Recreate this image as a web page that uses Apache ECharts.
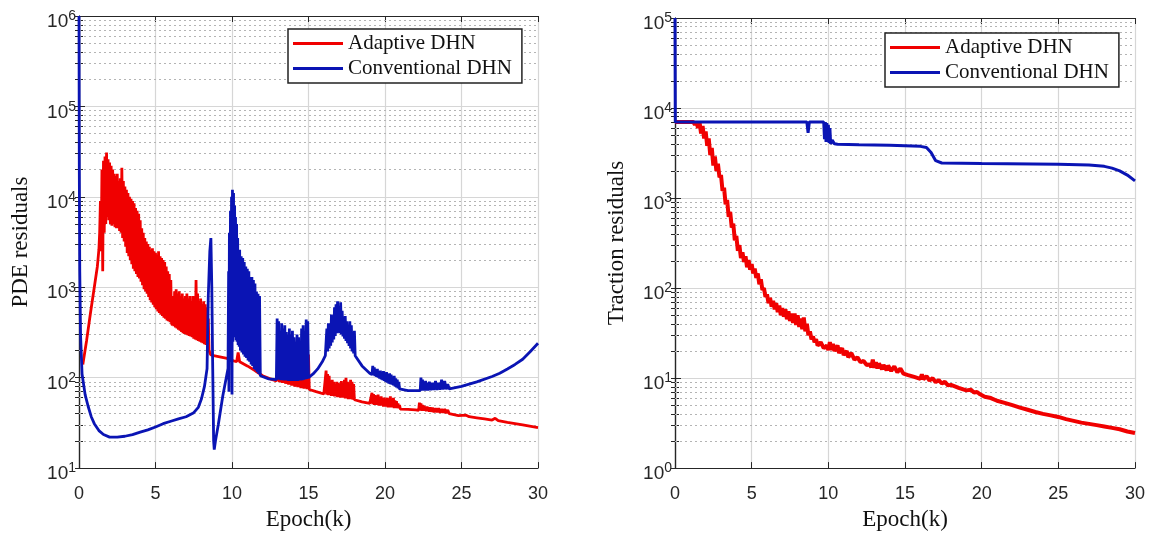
<!DOCTYPE html>
<html>
<head>
<meta charset="utf-8">
<script src="https://cdn.jsdelivr.net/npm/echarts@6/dist/echarts.min.js"></script>
<style>html,body{margin:0;padding:0;background:#fff}#c{width:1153px;height:536px}</style>
</head>
<body>
<div id="c"></div>
<script>
// ---------- data ----------
const seriesNames = ['Adaptive DHN', 'Conventional DHN'];
const xTicks = [0, 5, 10, 15, 20, 25, 30];
const leftDecades = [1, 2, 3, 4, 5, 6];
const rightDecades = [0, 1, 2, 3, 4, 5];
const minorMultipliers = [2, 3, 4, 5, 6, 7, 8, 9];

// Left panel: PDE residuals
const leftAdaptive = [
[0.25,140],[0.5,260],[0.75,520],[1.0,1000],[1.2,1700],[1.3,2600],[1.35,4000],[1.4,9000],[1.45,2500],[1.5,2e4],[1.55,1500],[1.6,2.5e4],[1.65,4000],
[1.7,2.8e4],[1.75,5000],[1.8,3.1e4],[1.85,6000],[1.9,2.6e4],[1.95,5500],[2.0,2.4e4],[2.05,5000],[2.1,2.2e4],[2.15,4800],[2.2,2e4],[2.25,5000],[2.3,1.8e4],[2.35,4600],[2.4,1.7e4],[2.45,4500],[2.5,1.8e4],[2.55,4500],[2.6,1.5e4],[2.65,4200],[2.7,1.6e4],[2.75,4000],[2.8,2.1e4],[2.85,3500],[2.9,1.5e4],[2.95,3200],[3.0,1.3e4],[3.05,2800],[3.1,1.2e4],[3.15,2400],[3.2,1.1e4],[3.25,2200],[3.3,1e4],[3.35,2000],[3.4,9500],[3.45,1800],[3.5,9000],[3.55,1600],[3.6,8500],[3.65,1500],[3.7,7500],[3.75,1400],[3.8,7000],[3.85,1300],[3.9,6500],[3.95,1250],[4.0,5500],[4.05,1150],[4.1,4500],[4.15,1050],[4.2,4000],[4.25,950],[4.3,3500],[4.35,900],[4.4,3200],[4.45,850],[4.5,3000],[4.55,780],[4.6,2800],[4.65,720],[4.7,2600],[4.75,680],[4.8,2700],[4.85,640],[4.9,2500],[4.95,600],[5.0,2400],[5.05,570],[5.1,2300],[5.15,540],[5.2,2500],[5.25,520],[5.3,2200],[5.35,500],[5.4,2100],[5.45,480],[5.5,2000],[5.55,460],[5.6,1900],[5.65,450],[5.7,1700],[5.75,430],[5.8,1500],[5.85,420],[5.9,1400],[5.95,410],[6.0,1200],[6.05,400],
[6.1,380],[6.15,800],[6.2,370],[6.25,900],[6.3,360],[6.35,950],[6.4,350],[6.45,850],[6.5,340],[6.55,900],[6.6,330],[6.65,800],[6.7,320],[6.75,850],[6.8,310],[6.85,750],[6.9,305],[6.95,800],[7.0,300],[7.05,850],[7.1,295],[7.15,750],[7.2,290],[7.25,800],[7.3,285],[7.35,700],[7.4,280],[7.45,800],[7.5,270],[7.55,750],[7.6,265],[7.65,1200],[7.7,260],[7.75,850],[7.8,255],[7.85,700],[7.9,250],[7.95,750],[8.0,245],[8.05,650],[8.1,240],[8.15,700],[8.2,235],[8.25,650],[8.3,230],[8.35,600],[8.4,225],[8.45,450],[8.5,200],[8.6,180],[8.8,175],[9.2,170],[9.6,165],[10.0,155],[10.3,150],[10.4,190],[10.5,150],[11.0,135],[11.5,120],[12.0,105],[12.5,97],[12.9,92],
[13.0,105],[13.1,90],[13.2,100],[13.3,88],[13.4,105],[13.5,86],[13.6,100],[13.7,84],[13.8,100],[13.9,82],[14.0,98],[14.1,80],[14.2,95],[14.3,79],[14.4,97],[14.5,77],[14.6,95],[14.7,76],[14.8,100],[14.9,75],[15.0,180],[15.05,74],[15.5,70],[16.0,66],[16.1,65],
[16.15,120],[16.2,65],[16.25,110],[16.3,64],[16.35,105],[16.4,64],[16.45,90],[16.5,63],[16.55,95],[16.6,63],[16.65,90],[16.7,62],[16.75,85],[16.8,62],[16.85,90],[16.9,61],[16.95,88],[17.0,61],[17.05,85],[17.1,60],[17.15,92],[17.2,60],[17.25,88],[17.3,60],[17.35,95],[17.4,59],[17.45,100],[17.5,59],[17.55,90],[17.6,58],[17.65,85],[17.7,58],[17.75,95],[17.8,58],[17.85,90],[17.9,57],[17.95,85],[18.0,57],[18.05,57],[18.5,54],[19.0,52],[19.1,51],
[19.15,68],[19.2,51],[19.25,66],[19.3,50],[19.35,64],[19.4,50],[19.45,62],[19.5,50],[19.55,65],[19.6,49],[19.65,60],[19.7,49],[19.75,62],[19.8,49],[19.85,58],[19.9,48],[19.95,60],[20.0,48],[20.05,57],[20.1,48],[20.15,60],[20.2,47],[20.25,58],[20.3,47],[20.35,62],[20.4,47],[20.45,58],[20.5,47],[20.55,60],[20.6,46],[20.65,56],[20.7,46],[20.75,55],[20.8,46],[20.85,52],[20.9,46],[20.95,50],[21.0,45],[21.5,44.5],[22.0,44],[22.2,43.5],
[22.25,53],[22.3,43.5],[22.35,52],[22.4,43],[22.45,50],[22.5,43],[22.55,49],[22.6,43],[22.65,48],[22.7,42.5],[22.75,48],[22.8,42.5],[22.85,47],[22.9,42],[22.95,47],[23.0,42],[23.1,46.5],[23.2,41.5],[23.3,46],[23.4,41.5],[23.5,46],[23.6,41],[23.7,45],[23.8,41],[23.9,45],[24.0,40.5],[24.1,44],[24.2,40],[24.8,38],[25.3,38.5],[25.5,37],[26,36],[26.5,35],[27,34],[27.2,35.5],[27.4,33.5],[28,32],[29,30],[30,28]
];
const leftConventional = [
[0,1e6],[0.02,2e4],[0.05,1500],[0.1,300],[0.2,110],[0.4,65],[0.6,48],[0.8,37],[1.0,31],[1.3,26],[1.6,23.5],[2.0,22],[2.5,22],[3.0,22.5],[3.5,23.5],[4.0,25],[4.5,26.5],[5.0,28.5],[5.5,31],[6.0,33],[6.5,35],[7.0,37],[7.5,41],[7.8,47],[8.0,58],[8.2,80],[8.37,126],[8.45,800],[8.55,2500],[8.62,3500],[8.68,1000],[8.74,126],[8.8,20],[8.84,16],[8.92,20],[9.1,30],[9.4,63],[9.74,126],
[9.78,1500],[9.8,70],[9.83,4000],[9.86,150],[9.9,7000],[9.93,200],[9.97,1e4],[10.0,65],[10.03,1.2e4],[10.06,250],[10.1,1.1e4],[10.13,300],[10.17,8000],[10.2,280],[10.23,6000],[10.27,260],[10.3,5000],[10.33,250],[10.37,3500],[10.4,230],[10.43,2500],[10.47,220],[10.5,2600],[10.55,200],[10.6,2200],[10.65,190],[10.7,2100],[10.75,180],[10.8,1900],[10.85,170],[10.9,1700],[10.95,165],[11.0,1600],[11.05,155],[11.1,1500],[11.15,150],[11.2,1300],[11.25,140],[11.3,1300],[11.35,135],[11.4,1200],[11.45,125],[11.5,1100],[11.55,120],[11.6,900],[11.65,115],[11.7,850],[11.75,110],[11.8,800],[11.85,105],[11.9,100],[12.4,97],[12.9,95],
[12.95,450],[13.0,95],[13.05,420],[13.1,95],[13.15,300],[13.2,94],[13.25,400],[13.3,94],[13.35,350],[13.4,93],[13.45,380],[13.5,93],[13.55,320],[13.6,93],[13.65,300],[13.7,92],[13.75,350],[13.8,92],[13.85,300],[13.9,92],[13.95,330],[14.0,92],[14.05,280],[14.1,92],[14.15,250],[14.2,92],[14.25,300],[14.3,92],[14.35,280],[14.4,93],[14.45,240],[14.5,93],[14.55,350],[14.6,94],[14.65,380],[14.7,95],[14.75,250],[14.8,96],[14.85,440],[14.9,97],[14.95,420],[15.0,100],[15.3,110],[15.6,125],[15.9,150],[16.1,175],
[16.2,350],[16.25,195],[16.3,400],[16.35,210],[16.4,350],[16.45,225],[16.5,500],[16.55,245],[16.6,450],[16.65,265],[16.7,600],[16.75,290],[16.8,650],[16.85,310],[16.9,700],[16.95,315],[17.0,620],[17.05,310],[17.1,680],[17.15,300],[17.2,550],[17.25,285],[17.3,450],[17.35,270],[17.4,480],[17.45,255],[17.5,420],[17.55,240],[17.6,360],[17.65,225],[17.7,420],[17.75,210],[17.8,380],[17.85,195],[17.9,300],[17.95,185],[18.0,330],[18.05,175],[18.1,170],[18.5,135],[19.0,112],[19.15,108],
[19.2,135],[19.25,106],[19.3,130],[19.35,104],[19.4,120],[19.45,102],[19.5,125],[19.55,100],[19.6,115],[19.65,98],[19.7,120],[19.75,96],[19.8,112],[19.85,94],[19.9,118],[19.95,92],[20.0,110],[20.05,90],[20.1,115],[20.15,88],[20.2,105],[20.25,86],[20.3,112],[20.35,85],[20.4,108],[20.45,84],[20.5,100],[20.55,82],[20.6,105],[20.65,80],[20.7,98],[20.75,78],[20.8,95],[20.85,76],[20.9,90],[20.95,75],[21.0,74],[21.5,72],[22.0,72],[22.3,72],
[22.35,100],[22.4,72],[22.45,95],[22.5,72],[22.55,90],[22.6,72],[22.65,92],[22.7,72],[22.75,88],[22.8,72],[22.9,90],[23.0,72.5],[23.1,88],[23.2,73],[23.3,92],[23.4,73],[23.5,88],[23.6,73.5],[23.7,95],[23.8,74],[23.9,92],[24.0,74.5],[24.1,85],[24.2,75],[25,80],[26,90],[27,103],[27.5,112],[28,125],[28.5,140],[29,160],[29.5,195],[30,240]
];

// Right panel: Traction residuals
const rightAdaptive = [
[0,7000],[1.2,7000],[1.3,6500],[1.4,7000],[1.5,6000],[1.6,7000],[1.7,5200],[1.8,6300],[1.9,4600],[2.0,5500],[2.1,3800],[2.2,4600],[2.3,3000],[2.4,3600],[2.5,2300],[2.6,2900],[2.7,2000],[2.8,2400],[2.9,1700],[3.0,1800],[3.1,1200],[3.2,1300],[3.3,850],[3.4,950],[3.5,620],[3.6,700],[3.7,470],[3.8,520],[3.9,340],[4.0,380],[4.1,260],[4.2,300],[4.3,215],[4.4,250],[4.5,195],[4.6,225],[4.7,170],[4.8,205],[4.9,160],[5.0,185],[5.1,145],[5.2,165],[5.3,130],[5.4,145],[5.5,110],[5.6,125],[5.7,95],[5.8,100],[5.9,80],[6.0,85],[6.1,68],[6.2,78],[6.3,62],[6.4,72],[6.5,58],[6.6,68],[6.7,54],[6.8,64],[6.9,50],[7.0,60],[7.1,48],[7.2,58],[7.3,45],[7.4,55],[7.5,43],[7.6,52],[7.7,41],[7.8,52],[7.9,39],[8.0,50],[8.1,37],[8.2,46],[8.3,35],[8.4,47],[8.5,33],[8.6,40],[8.7,30],[8.8,33],[8.9,27],[9.0,29],[9.1,25],[9.2,27],[9.3,23],[9.5,25],[9.7,21.5],[9.9,23],[10.0,20.5],[10.1,25],[10.2,20.5],[10.3,24],[10.4,20],[10.6,23],[10.7,19],[10.9,21.5],[11.0,18],[11.2,20],[11.3,17],[11.5,19],[11.7,16],[11.9,17],[12.1,15],[12.3,15.5],[12.5,14],[12.7,14.2],[12.8,13.2],[12.9,16],[13.0,13],[13.1,15],[13.2,12.8],[13.3,14.5],[13.5,12.5],[13.6,14],[13.8,12.2],[13.9,13.8],[14.1,12],[14.3,13.5],[14.5,11.6],[14.7,12.8],[14.9,11.2],[15.2,10.8],[15.6,10.3],[16.0,9.8],[16.1,11],[16.2,9.7],[16.4,10.5],[16.6,9.4],[16.8,10],[17.0,9.0],[17.2,9.5],[17.4,8.7],[17.6,9.1],[17.8,8.3],[18.0,8.4],[18.5,7.8],[19.0,7.3],[19.3,7.4],[19.5,6.9],[19.7,7.0],[19.9,6.6],[20.2,6.2],[20.6,6.0],[21.0,5.6],[21.5,5.3],[22.0,5.0],[22.5,4.7],[23.0,4.45],[23.5,4.2],[24.0,4.0],[24.5,3.85],[25.0,3.7],[25.5,3.5],[26.0,3.35],[26.5,3.2],[27.0,3.1],[27.5,3.0],[28.0,2.9],[28.5,2.8],[29.0,2.7],[29.5,2.55],[30.0,2.45]
];
const rightConventional = [
[0,1e5],[0.02,7000],[8.6,7000],[8.68,5300],[8.76,7000],[9.7,7000],[9.75,4500],[9.8,7000],[9.85,4200],[9.9,6800],[9.95,4300],[10.0,6500],[10.05,4100],[10.1,6000],[10.15,4000],[10.25,4400],[10.4,4000],[10.6,3950],[12,3900],[14,3850],[16,3750],[16.4,3650],[16.7,3200],[17.0,2600],[17.4,2450],[20,2420],[25,2380],[27,2330],[28,2250],[28.5,2150],[29,2000],[29.5,1800],[30,1550]
];

// ---------- styling ----------
const RED = '#f00000';
const BLUE = '#0a14b4';
const AX = '#262626';
const SANS = 'Liberation Sans';
const SERIF = 'Liberation Serif';

function minorValues(decades) {
  const out = [];
  for (let i = 0; i < decades.length - 1; i++) {
    for (const m of minorMultipliers) out.push(m * Math.pow(10, decades[i]));
  }
  return out;
}
function allTickValues(decades) {
  return minorValues(decades).concat(decades.map(d => Math.pow(10, d)));
}
function minorMarkLine(decades) {
  return {
    silent: true, symbol: 'none', animation: false, z: 1,
    label: { show: false },
    lineStyle: { type: [2, 3], color: '#b4b4b4', width: 1 },
    data: minorValues(decades).map(v => ({ yAxis: v }))
  };
}
const supLabel = {
  formatter: v => '10{s|' + Math.round(Math.log10(v)) + '}',
  fontFamily: SANS, fontSize: 19, color: AX, margin: 3,
  padding: [12, 0, 0, 0],
  rich: { s: { fontFamily: SANS, fontSize: 14, color: AX, padding: [0, 0, 11, 0] } }
};

function xAxes(gi) {
  return [
    {
      gridIndex: gi, type: 'value', min: xTicks[0], max: xTicks[xTicks.length - 1], interval: 5,
      position: 'bottom',
      axisLine: { show: true, lineStyle: { color: AX, width: 1.2 } },
      axisTick: { show: true, inside: true, length: 6, lineStyle: { color: AX } },
      axisLabel: { fontFamily: SANS, fontSize: 18, color: AX, margin: 17 },
      splitLine: { show: true, lineStyle: { color: '#d6d6d6', width: 1.2 } },
      name: 'Epoch(k)', nameLocation: 'middle', nameGap: 37,
      nameTextStyle: { fontFamily: SERIF, fontSize: 23, color: '#111' }
    },
    {
      gridIndex: gi, type: 'value', min: xTicks[0], max: xTicks[xTicks.length - 1], interval: 5,
      position: 'top',
      axisLine: { show: true, lineStyle: { color: AX, width: 1.2 } },
      axisTick: { show: true, inside: true, length: 6, lineStyle: { color: AX } },
      axisLabel: { show: false }, splitLine: { show: false }
    }
  ];
}
function yAxes(gi, decades, name, gap) {
  const mn = Math.pow(10, decades[0]), mx = Math.pow(10, decades[decades.length - 1]);
  return [
    {
      gridIndex: gi, type: 'log', logBase: 10, min: mn, max: mx, position: 'left',
      axisLine: { show: true, lineStyle: { color: AX, width: 1.2 } },
      axisTick: { show: true, inside: true, length: 6, lineStyle: { color: AX } },
      axisLabel: supLabel,
      splitLine: { show: true, lineStyle: { color: '#d6d6d6', width: 1.2 } },
      name: name, nameLocation: 'middle', nameGap: gap,
      nameTextStyle: { fontFamily: SERIF, fontSize: 23, color: '#111' }
    },
    {
      gridIndex: gi, type: 'log', logBase: 10, min: mn, max: mx, position: 'right',
      axisLine: { show: true, lineStyle: { color: AX, width: 1.2 } },
      axisTick: { show: true, inside: true, length: 4, lineStyle: { color: AX }, customValues: allTickValues(decades) },
      axisLabel: { show: false }, splitLine: { show: false }
    },
    {
      gridIndex: gi, type: 'log', logBase: 10, min: mn, max: mx, position: 'left',
      axisLine: { show: false },
      axisTick: { show: true, inside: true, length: 4, lineStyle: { color: AX }, customValues: minorValues(decades) },
      axisLabel: { show: false }, splitLine: { show: false }
    }
  ];
}

function legendAt(left, top) {
  return {
    left: left, top: top, orient: 'vertical', z: 20,
    data: seriesNames,
    icon: 'rect', itemWidth: 50, itemHeight: 3, itemGap: 4,
    padding: [4, 10, 4, 5],
    borderColor: '#222', borderWidth: 1.5, backgroundColor: '#fff',
    textStyle: { fontFamily: SERIF, fontSize: 21, color: '#111' },
    selectedMode: false
  };
}

const option = {
  animation: false,
  backgroundColor: '#fff',
  grid: [
    { left: 79, top: 16, width: 459, height: 457 },
    { left: 675, top: 18, width: 460, height: 460 }
  ],
  legend: [legendAt(288, 29), legendAt(885, 33)],
  xAxis: xAxes(0).concat(xAxes(1)),
  yAxis: yAxes(0, leftDecades, 'PDE residuals', 47).concat(yAxes(1, rightDecades, 'Traction residuals', 47)),
  series: [
    { name: seriesNames[0], type: 'line', xAxisIndex: 0, yAxisIndex: 0, data: leftAdaptive,
      symbol: 'none', lineStyle: { color: RED, width: 2.8 }, itemStyle: { color: RED },
      markLine: minorMarkLine(leftDecades), z: 3 },
    { name: seriesNames[1], type: 'line', xAxisIndex: 0, yAxisIndex: 0, data: leftConventional,
      symbol: 'none', lineStyle: { color: BLUE, width: 2.8 }, itemStyle: { color: BLUE }, clip: false, z: 4 },
    { name: seriesNames[0], type: 'line', xAxisIndex: 2, yAxisIndex: 3, data: rightAdaptive,
      symbol: 'none', lineStyle: { color: RED, width: 4 }, itemStyle: { color: RED },
      markLine: minorMarkLine(rightDecades), z: 3 },
    { name: seriesNames[1], type: 'line', xAxisIndex: 2, yAxisIndex: 3, data: rightConventional,
      symbol: 'none', lineStyle: { color: BLUE, width: 3 }, itemStyle: { color: BLUE }, clip: false, z: 4 }
  ]
};
const chart = echarts.init(document.getElementById('c'), null, { renderer: 'canvas' });
chart.setOption(option);
</script>
</body>
</html>
